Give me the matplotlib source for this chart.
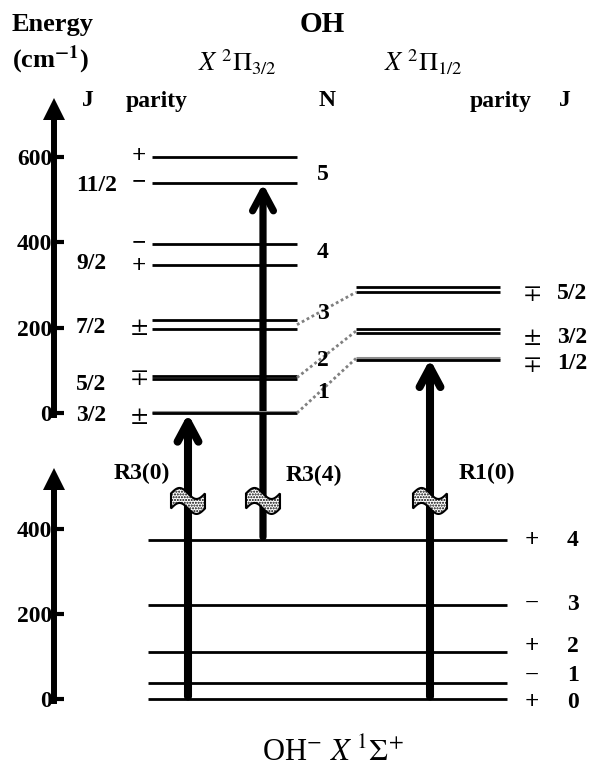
import numpy as np
import matplotlib
matplotlib.use("Agg")
import matplotlib.pyplot as plt
from matplotlib.patches import Polygon

plt.rcParams["font.family"] = ["Liberation Serif", "DejaVu Serif"]
plt.rcParams["mathtext.fontset"] = "stix"

# energy scale of the drawing: pixels per cm-1, and pixel rows of the two zeros
PX_PER_CM = 0.4267
ZERO_UP_PX = 413.0
ZERO_LO_PX = 699.3
W, H = 595, 771

PM, MP = r"$\pm$", r"$\mp$"

# OH X 2Pi(3/2) levels (cm-1)
pi32_levels = [0, 79, 87, 196, 218, 348, 397, 539, 600]
pi32_grey = [3]
pi32_j = ["3/2", "5/2", "7/2", "9/2", "11/2"]
pi32_j_e = [-7, 66, 201, 351, 534]
pi32_par = [PM, MP, PM, "+", "\u2212", "+", "\u2212"]
pi32_par_e = [-7, 84, 201, 344, 400, 600, 541]

# OH X 2Pi(1/2) levels (cm-1)
pi12_levels = [125, 187, 197, 283, 296]
pi12_grey = [130]
pi12_j = ["1/2", "3/2", "5/2"]
pi12_par = [MP, PM, MP]
pi12_lab_e = [115, 178, 281]

# N labels and dotted links between the two spin-orbit manifolds
n_labels = ["1", "2", "3", "4", "5"]
n_lab_e = [49, 124, 234, 375, 558]
link_left_e = [0, 83, 207]
link_right_e = [128, 192, 283]

# OH- X 1Sigma+ levels (cm-1)
anion_levels = [0, 38, 112, 222, 374]
anion_j = ["0", "1", "2", "3", "4"]
anion_par = ["+", "\u2212", "+", "\u2212", "+"]
anion_lab_e = [-8, 55, 123, 223, 373]

# transitions: name, x, anion energy, OH energy
trans_names = ["R3(0)", "R3(4)", "R1(0)"]
trans_x = [188, 263, 430]
trans_from = [0, 374, 0]
trans_to = [0, 539, 128]
trans_lw = [5.8, 5.2, 5.8]
trans_lab_x = [142, 314, 487]
trans_lab_e = [530, 525, 530]
squiggle_e = 466

fig = plt.figure(figsize=(W / 100, H / 100), dpi=100)
ax_lo = fig.add_axes([0, 0, 1, 1])
ax_up = fig.add_axes([0, 0, 1, 1])
ax_up.patch.set_visible(False)

ax_up.set_ylim((ZERO_UP_PX - H) / PX_PER_CM, ZERO_UP_PX / PX_PER_CM)
ax_lo.set_ylim((ZERO_LO_PX - H) / PX_PER_CM, ZERO_LO_PX / PX_PER_CM)

for ax, top, ticks, head in ((ax_up, 690, [0, 200, 400, 600], 713),
                             (ax_lo, 497, [0, 200, 400], 517)):
    ax.set_xlim(0, W)
    for s in ["top", "right", "bottom"]:
        ax.spines[s].set_visible(False)
    ax.spines["left"].set_position(("data", 53.5))
    ax.spines["left"].set_bounds(-4, top)
    ax.spines["left"].set_linewidth(4.3)
    ax.set_xticks([])
    ax.set_yticks(ticks)
    ax.set_yticklabels([str(t) for t in ticks], fontweight="bold")
    ax.tick_params(axis="y", direction="in", length=7, width=3, pad=1, labelsize=17)
    ax.plot(53.5, head, marker="^", ms=16, color="black", mew=0, clip_on=False)

fs = 17


def parity_weight(p):
    return "bold" if p in ("+", "\u2212") else "normal"


# OH levels
ax_up.hlines(pi32_grey, 152, 297, color="#8c8c8c", lw=2.2)
ax_up.hlines(pi32_levels, 152, 297, color="black", lw=2.0)
ax_up.hlines(pi12_grey, 356, 500, color="#8c8c8c", lw=2.2)
ax_up.hlines(pi12_levels, 356, 500, color="black", lw=2.0)
for j, e in zip(pi32_j, pi32_j_e):
    ax_up.text(76, e, j, fontsize=fs, fontweight="bold", ha="left", va="center")
for p, e in zip(pi32_par, pi32_par_e):
    ax_up.text(139, e, p, fontsize=18, ha="center", va="center",
               fontweight=parity_weight(p))
for j, p, e in zip(pi12_j, pi12_par, pi12_lab_e):
    ax_up.text(532, e, p, fontsize=18, ha="center", va="center")
    ax_up.text(557, e, j, fontsize=fs, fontweight="bold", ha="left", va="center")
for el, er in zip(link_left_e, link_right_e):
    ax_up.plot([297, 356], [el, er], color="#808080", lw=2, ls=(0, (1, 1)))
for n, e in zip(n_labels, n_lab_e):
    ax_up.text(323, e, n, fontsize=fs, fontweight="bold", ha="center", va="center")

# anion levels
ax_lo.hlines(anion_levels, 148, 507, color="black", lw=2.0)
for j, p, e in zip(anion_j, anion_par, anion_lab_e):
    ax_lo.text(532, e, p, fontsize=18, ha="center", va="center",
               fontweight="bold" if p == "+" else "normal")
    ax_lo.text(573, e, j, fontsize=fs, fontweight="bold", ha="center", va="center")

# photodetachment transitions
u = np.linspace(-17, 17, 60)
top_px = -7 - 5.5 * np.sin(2 * np.pi * (u + 17) / 34)
for name, x, e0, e1, lw, lx, le in zip(trans_names, trans_x, trans_from, trans_to,
                                        trans_lw, trans_lab_x, trans_lab_e):
    ax_lo.annotate("", xy=(x, e1), xycoords=ax_up.transData,
                   xytext=(x, e0), textcoords="data",
                   arrowprops=dict(arrowstyle="->,head_length=14,head_width=7.5",
                                   mutation_scale=1, lw=lw, color="black",
                                   shrinkA=2, shrinkB=0.5, capstyle="round"),
                   annotation_clip=False, zorder=4)
    top_e = squiggle_e - top_px / PX_PER_CM
    bot_e = squiggle_e - (top_px + 15) / PX_PER_CM
    verts = np.column_stack([np.concatenate([x + u, (x + u)[::-1]]),
                             np.concatenate([top_e, bot_e[::-1]])])
    ax_lo.add_patch(Polygon(verts, closed=True, facecolor="white", edgecolor="black",
                            lw=1.5, hatch="......", zorder=5))
    ax_lo.text(lx, le, name, fontsize=17, fontweight="bold", ha="center", va="center")


def px(x, y):
    return x / W, 1 - y / H


fig.text(*px(12, 24), "Energy", fontsize=19, fontweight="bold", ha="left", va="center")
fig.text(*px(12, 60), r"(cm$^{\mathbf{-1}}$)", fontsize=19, fontweight="bold",
         ha="left", va="center")
fig.text(*px(322, 24), "OH", fontsize=21, fontweight="bold", ha="center", va="center")
fig.text(*px(237, 62), r"$X\ ^{2}\Pi_{3/2}$", fontsize=19, ha="center", va="center")
fig.text(*px(423, 62), r"$X\ ^{2}\Pi_{1/2}$", fontsize=19, ha="center", va="center")
fig.text(*px(88, 101), "J", fontsize=fs, fontweight="bold", ha="center", va="center")
fig.text(*px(157, 101), "parity", fontsize=fs, fontweight="bold", ha="center", va="center")
fig.text(*px(327, 101), "N", fontsize=fs, fontweight="bold", ha="center", va="center")
fig.text(*px(501, 101), "parity", fontsize=fs, fontweight="bold", ha="center", va="center")
fig.text(*px(565, 101), "J", fontsize=fs, fontweight="bold", ha="center", va="center")
fig.text(*px(333, 753), r"OH$^{-}$ $X\ ^{1}\Sigma^{+}$", fontsize=22,
         ha="center", va="center")

fig.savefig("out.png", dpi=100)
